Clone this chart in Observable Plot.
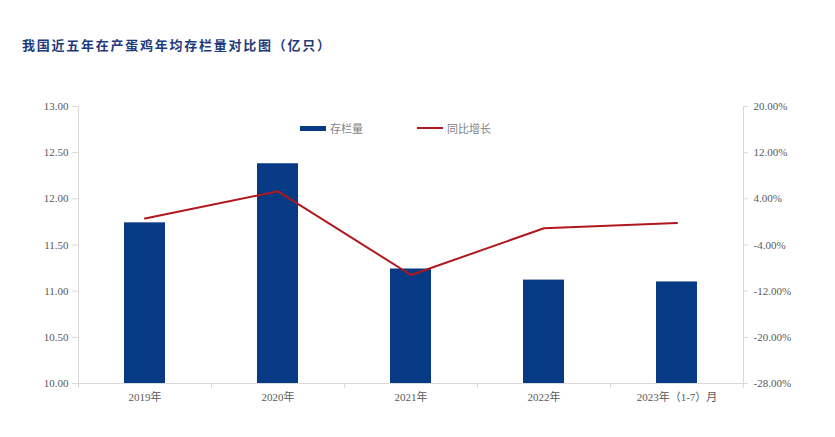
<!DOCTYPE html>
<html>
<head>
<meta charset="utf-8">
<script src="https://cdn.jsdelivr.net/npm/d3@7"></script>
<script src="https://cdn.jsdelivr.net/npm/@observablehq/plot@0.6"></script>
<style>
body{margin:0;background:#fff;}
#wrap{position:relative;width:835px;height:437px;overflow:hidden;}
#title{position:absolute;left:22px;top:35px;font-family:"Noto Sans CJK SC",sans-serif;font-weight:bold;font-size:13px;color:#1c3a7c;letter-spacing:1.75px;white-space:nowrap;}
#legend{position:absolute;left:300px;top:120px;font-family:"Noto Sans CJK SC",sans-serif;font-size:11px;color:#7f7f7f;display:flex;align-items:center;}
.sw{display:inline-block;width:26px;margin-right:4px;}
.item{display:flex;align-items:center;margin-right:54px;}
#chart{position:absolute;left:0;top:0;}
#chart svg text, #chart svg g[aria-label] {font-family:"Liberation Serif","Noto Sans CJK SC",serif !important;}
</style>
</head>
<body>
<div id="wrap">
<div id="chart"></div>
<div id="title">我国近五年在产蛋鸡年均存栏量对比图（亿只）</div>
<div id="legend">
  <span class="item"><span class="sw" style="height:5px;background:#063a84"></span>存栏量</span>
  <span class="item"><span class="sw" style="height:2px;background:#b0181e"></span>同比增长</span>
</div>
</div>
<script>
const years = ["2019年","2020年","2021年","2022年","2023年（1-7）月"];
const stock = [11.74, 12.38, 11.24, 11.12, 11.10];
const growth = [0.6, 5.3, -9.2, -1.1, -0.2];
const leftTicks = [10, 10.5, 11, 11.5, 12, 12.5, 13];
const rightTicks = [-28, -20, -12, -4, 4, 12, 20];

const W = 835, H = 437, mL = 78, mR = 92, mT = 106, mB = 54;
const yMin = 10, yMax = 13, pMin = -28, pMax = 20;
const toY = p => yMin + (p - pMin) / (pMax - pMin) * (yMax - yMin);
const step = (W - mL - mR) / years.length;

const data = years.map((y, i) => ({year: y, stock: stock[i], growth: growth[i], gy: toY(growth[i])}));
const axisColor = "#d9d9d9";
const labelColor = "#595959";
const serif = "Liberation Serif, Noto Sans CJK SC, serif";

const chart = Plot.plot({
  width: W, height: H,
  marginTop: mT, marginBottom: mB, marginLeft: mL, marginRight: mR,
  style: {fontFamily: serif, fontSize: "11px", color: labelColor, background: "transparent"},
  x: {type: "band", domain: years, paddingInner: 0.69, paddingOuter: 0.345, axis: null},
  y: {domain: [yMin, yMax], axis: null},
  marks: [
    Plot.barY(data, {x: "year", y1: yMin, y2: "stock", fill: "#063a84"}),
    Plot.ruleY([yMin], {stroke: axisColor}),
    Plot.ruleX([years[0]], {dx: -step / 2, stroke: axisColor}),
    Plot.ruleX([years[years.length - 1]], {dx: step / 2, stroke: axisColor}),
    Plot.ruleX(years, {x: d => d, dx: -step / 2, y1: yMin, y2: yMin, insetBottom: -5, stroke: axisColor}),
    Plot.ruleX([years[years.length - 1]], {x: d => d, dx: step / 2, y1: yMin, y2: yMin, insetBottom: -5, stroke: axisColor}),
    Plot.axisX({domain: years, tickSize: 0, tickPadding: 10, label: null, fill: labelColor, fontSize: 11}),
    Plot.axisY(leftTicks, {anchor: "left", tickSize: 6, tickFormat: () => "", label: null, stroke: axisColor}),
    Plot.axisY(leftTicks, {anchor: "left", tickSize: 0, tickPadding: 10, tickFormat: d => d.toFixed(2), label: null, fill: labelColor, fontSize: 11}),
    Plot.axisY(rightTicks.map(toY), {anchor: "right", tickSize: 4, tickFormat: () => "", label: null, stroke: axisColor}),
    Plot.axisY(rightTicks.map(toY), {anchor: "right", tickSize: 0, tickPadding: 10, tickFormat: (d, i) => rightTicks[i].toFixed(2) + "%", label: null, fill: labelColor, fontSize: 11}),
    Plot.line(data, {x: "year", y: "gy", stroke: "#b0181e", strokeWidth: 2})
  ]
});
document.getElementById("chart").appendChild(chart);
</script>
</body>
</html>
